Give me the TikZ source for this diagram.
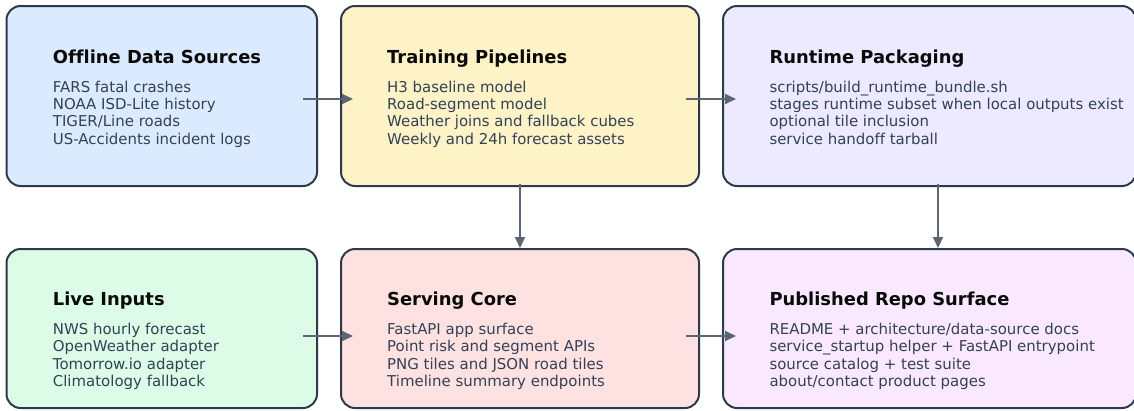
\documentclass[tikz,border=0pt]{standalone}
\usepackage{fontspec}
\setmainfont[Ligatures=CommonOff]{DejaVu Sans}
\usetikzlibrary{arrows.meta,calc}
\definecolor{fillA}{HTML}{DBEAFE}
\definecolor{fillB}{HTML}{FEF3C7}
\definecolor{fillC}{HTML}{EDE9FE}
\definecolor{fillD}{HTML}{DCFCE7}
\definecolor{fillE}{HTML}{FEE2E2}
\definecolor{fillF}{HTML}{FAE8FF}
\definecolor{borderc}{HTML}{2E3A4B}
\definecolor{bodyc}{HTML}{334155}
\definecolor{titlec}{HTML}{0A0A0A}
\definecolor{arrowc}{HTML}{5B6573}
\newcommand{\bodylines}[1]{\fontsize{14.95}{17.45}\selectfont\vtop{#1}}
\tikzset{
  card/.style={draw=borderc, line width=2pt, rounded corners=14pt, inner sep=0pt, outer sep=0pt, rectangle},
  cardtitle/.style={anchor=base west, inner sep=0pt, font=\fontsize{17.9}{20}\selectfont\bfseries, text=titlec},
  cardbody/.style={anchor=base west, inner sep=0pt, text=bodyc},
  flow/.style={draw=arrowc, line width=2pt, -{Triangle[length=11pt,width=10pt]}}
}
\begin{document}
\begin{tikzpicture}[x=1pt,y=-1pt]
\useasboundingbox (0,0) rectangle (1134,410);
% top row
\node[card, fill=fillA, minimum width=310.5pt, minimum height=180pt] (src) at (161.75,96) {};
\node[card, fill=fillB, minimum width=358pt, minimum height=180pt] (train) at (520,96) {};
\node[card, fill=fillC, minimum width=413pt, minimum height=180pt] (pack) at (929.5,96) {};
% bottom row
\node[card, fill=fillD, minimum width=310.5pt, minimum height=159pt] (live) at (161.75,328.5) {};
\node[card, fill=fillE, minimum width=358pt, minimum height=159pt] (serve) at (520,328.5) {};
\node[card, fill=fillF, minimum width=413pt, minimum height=159pt] (repo) at (929.5,328.5) {};
% texts
\node[cardtitle] (srcT) at (52.7,63.3) {Offline Data Sources};
\node[cardbody] (srcB) at (52.7,92) {\bodylines{\hbox{FARS fatal crashes}\hbox{NOAA ISD-Lite history}\hbox{TIGER/Line roads}\hbox{US-Accidents incident logs}}};
\node[cardtitle] (trainT) at (387,63.3) {Training Pipelines};
\node[cardbody] (trainB) at (387,92) {\bodylines{\hbox{H3 baseline model}\hbox{Road-segment model}\hbox{Weather joins and fallback cubes}\hbox{Weekly and 24h forecast assets}}};
\node[cardtitle] (packT) at (769.3,63.3) {Runtime Packaging};
\node[cardbody] (packB) at (769.3,92) {\bodylines{\hbox{scripts/build\_runtime\_bundle.sh}\hbox{stages runtime subset when local outputs exist}\hbox{optional tile inclusion}\hbox{service handoff tarball}}};
\node[cardtitle] (liveT) at (52.7,305.7) {Live Inputs};
\node[cardbody] (liveB) at (52.7,334.3) {\bodylines{\hbox{NWS hourly forecast}\hbox{OpenWeather adapter}\hbox{Tomorrow.io adapter}\hbox{Climatology fallback}}};
\node[cardtitle] (serveT) at (387,305.7) {Serving Core};
\node[cardbody] (serveB) at (387,334.3) {\bodylines{\hbox{FastAPI app surface}\hbox{Point risk and segment APIs}\hbox{PNG tiles and JSON road tiles}\hbox{Timeline summary endpoints}}};
\node[cardtitle] (repoT) at (769.3,305.7) {Published Repo Surface};
\node[cardbody] (repoB) at (769.3,334.3) {\bodylines{\hbox{README + architecture/data-source docs}\hbox{service\_startup helper + FastAPI entrypoint}\hbox{source catalog + test suite}\hbox{about/contact product pages}}};
% connectors
\draw[flow] ($(src.east)+(-14,3)$) -- ($(train.west)+(12,3)$);
\draw[flow] ($(train.east)+(-13,3)$) -- ($(pack.west)+(13,3)$);
\draw[flow] ($(live.east)+(-14,7.5)$) -- ($(serve.west)+(12,7.5)$);
\draw[flow] ($(serve.east)+(-13,7.5)$) -- ($(repo.west)+(13,7.5)$);
\draw[flow] ($(train.south)+(0,-2)$) -- ($(serve.north)+(0,-1)$);
\draw[flow] ($(pack.south)+(8.5,-2)$) -- ($(repo.north)+(8.5,-1)$);
\end{tikzpicture}
\end{document}
